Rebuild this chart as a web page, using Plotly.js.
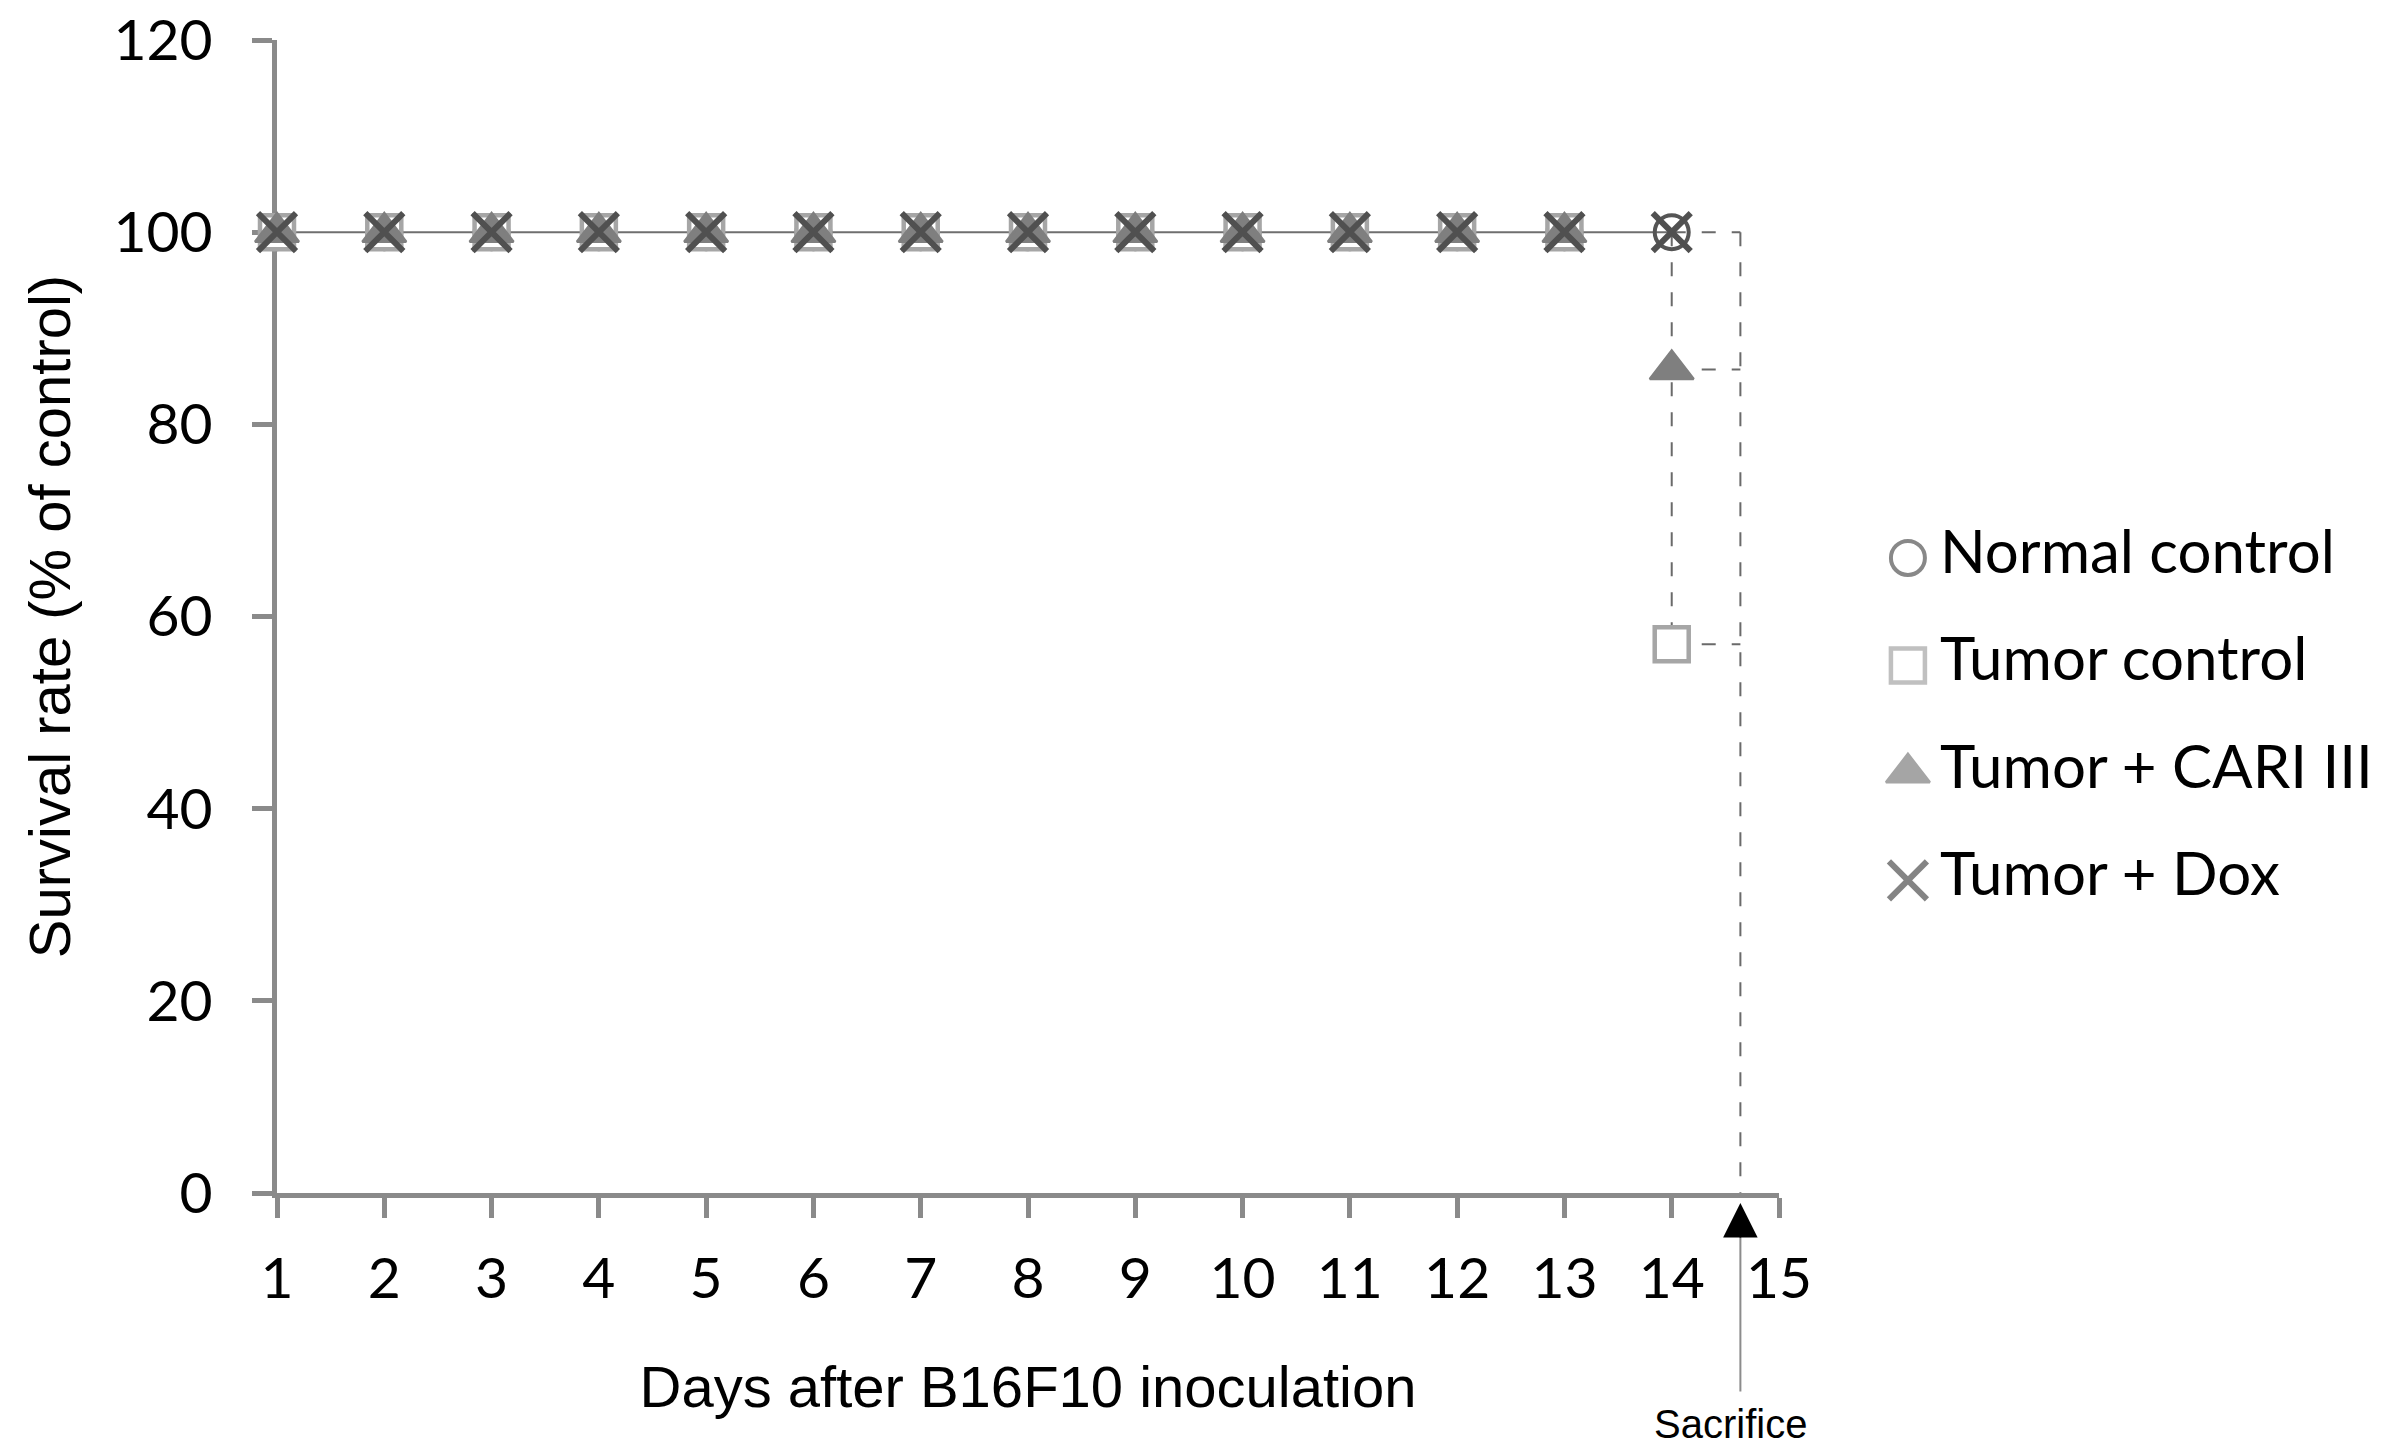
<!DOCTYPE html>
<html>
<head>
<meta charset="utf-8">
<script src="https://cdn.plot.ly/plotly-3.0.1.min.js"></script>
<style>
  html, body { margin: 0; padding: 0; background: #fff; }
  #chart { width: 2404px; height: 1451px; }
</style>
</head>
<body>
<div id="chart"></div>
<script>
// survival data (7 mice per group)
const days = [1, 2, 3, 4, 5, 6, 7, 8, 9, 10, 11, 12, 13, 14];
const normalControl = [100, 100, 100, 100, 100, 100, 100, 100, 100, 100, 100, 100, 100, 100];
const tumorControl = [100, 100, 100, 100, 100, 100, 100, 100, 100, 100, 100, 100, 100, 57.1];
const tumorCari = [100, 100, 100, 100, 100, 100, 100, 100, 100, 100, 100, 100, 100, 85.7];
const tumorDox = [100, 100, 100, 100, 100, 100, 100, 100, 100, 100, 100, 100, 100, 100];
const sacrificeDay = 14.64;

const seriesNames = ['Normal control', 'Tumor control', 'Tumor + CARI III', 'Tumor + Dox'];
const xTicks = [1, 2, 3, 4, 5, 6, 7, 8, 9, 10, 11, 12, 13, 14, 15];
const yTicks = [0, 20, 40, 60, 80, 100, 120];

const AXIS_GREY = '#8a8a8a';
const DASH = '14px,16px';

// marker look of each group, reused by the legend keys
const markerStyles = [
  { symbol: 'circle-open', size: 34, color: '#555555', line: { width: 4, color: '#555555' } },
  { symbol: 'square', size: 34, color: '#ffffff', line: { width: 4.5, color: '#a6a6a6' } },
  { symbol: 'triangle-up', size: 38, color: '#7f7f7f', line: { width: 2.5, color: '#7f7f7f' } },
  { symbol: 'x-thin-open', size: 38, color: '#505050', line: { width: 6, color: '#505050' } }
];
const allSeries = [normalControl, tumorControl, tumorCari, tumorDox];

// dashed guides from the last day to the sacrifice day
const lastDay = days[days.length - 1];
const lastVals = allSeries.map(s => s[s.length - 1]);
const topVal = Math.max(...lastVals);
const lowVal = Math.min(...lastVals);

const guideX = [lastDay, lastDay, null, sacrificeDay, sacrificeDay, null];
const guideY = [topVal, lowVal, null, topVal, 0, null];
[...new Set(lastVals)].forEach(v => {
  guideX.push(lastDay, sacrificeDay, null);
  guideY.push(v, v, null);
});

const traces = [];

traces.push({
  x: guideX, y: guideY,
  type: 'scatter', mode: 'lines',
  line: { color: '#6a6a6a', width: 2, dash: DASH },
  hoverinfo: 'skip', showlegend: false, cliponaxis: false
});

allSeries.forEach((vals, i) => {
  traces.push({
    x: days, y: vals,
    name: seriesNames[i],
    type: 'scatter',
    mode: i === 0 ? 'lines+markers' : 'markers',
    line: { color: '#6f6f6f', width: 2 },
    marker: markerStyles[i],
    showlegend: false,
    cliponaxis: false
  });
});

// legend keys drawn on a hidden side axis
const legendRows = seriesNames.map((n, i) => i);
traces.push({
  x: legendRows.map(() => 22), y: legendRows,
  xaxis: 'x2', yaxis: 'y2',
  type: 'scatter', mode: 'markers',
  marker: {
    symbol: markerStyles.map(m => m.symbol),
    size: markerStyles.map(m => m.size),
    color: markerStyles.map(m => m.color),
    line: { width: markerStyles.map(m => m.line.width), color: markerStyles.map(m => m.line.color) }
  },
  hoverinfo: 'skip', showlegend: false, cliponaxis: false
});
traces.push({
  x: legendRows.map(() => 54), y: legendRows,
  xaxis: 'x2', yaxis: 'y2',
  type: 'scatter', mode: 'text',
  text: seriesNames,
  textposition: 'middle right',
  textfont: { family: 'Lato, "Open Sans", sans-serif', size: 60, color: '#000' },
  hoverinfo: 'skip', showlegend: false, cliponaxis: false
});

const tickFont = { family: 'Lato, "Open Sans", sans-serif', size: 57, color: '#000' };
const titleFont = { family: '"Liberation Sans", Arial, sans-serif', size: 58, color: '#000' };

const layout = {
  width: 2404,
  height: 1451,
  margin: { l: 277, r: 10, t: 40, b: 258 },
  paper_bgcolor: '#ffffff',
  plot_bgcolor: '#ffffff',
  showlegend: false,
  xaxis: {
    domain: [0, 0.7095],
    range: [1, 15],
    tickvals: xTicks,
    ticktext: xTicks.map(String),
    ticks: 'outside', ticklen: 20, tickwidth: 5, tickcolor: AXIS_GREY,
    showline: true, linecolor: AXIS_GREY, linewidth: 5,
    showgrid: false, zeroline: false,
    tickfont: tickFont,
    ticklabelstandoff: 12,
    ticklabeloverflow: 'allow',
    layer: 'below traces',
    title: { text: 'Days after B16F10 inoculation', font: titleFont, standoff: 58 }
  },
  yaxis: {
    range: [0, 120],
    tickvals: yTicks,
    ticks: 'outside', ticklen: 20, tickwidth: 5, tickcolor: AXIS_GREY,
    showline: true, linecolor: AXIS_GREY, linewidth: 5,
    showgrid: false, zeroline: false,
    tickfont: tickFont,
    ticklabelstandoff: 28,
    ticklabeloverflow: 'allow',
    layer: 'below traces',
    title: { text: 'Survival rate (% of control)', font: titleFont, standoff: 26 }
  },
  xaxis2: {
    domain: [0.76, 1], range: [0, 508], anchor: 'y2',
    visible: false, fixedrange: true
  },
  yaxis2: {
    domain: [0, 1], range: [5.91, -4.82], anchor: 'x2',
    visible: false, fixedrange: true
  },
  annotations: [
    {
      // grey stem of the sacrifice arrow
      x: sacrificeDay, xref: 'x', y: -0.0086, yref: 'paper',
      text: '',
      showarrow: true, arrowhead: 0, arrowwidth: 2, arrowcolor: '#8c8c8c',
      ax: 0, ay: 190, standoff: 30
    },
    {
      x: sacrificeDay, xref: 'x', y: -0.0086, yref: 'paper',
      text: '',
      showarrow: true, arrowhead: 2, arrowsize: 4.6, arrowwidth: 1.5, arrowcolor: '#000',
      ax: 0, ay: 36
    },
    {
      x: sacrificeDay, xref: 'x', xshift: -10,
      y: -0.2005, yref: 'paper', yanchor: 'middle',
      text: 'Sacrifice',
      font: { family: '"Liberation Sans", Arial, sans-serif', size: 40, color: '#000' },
      showarrow: false
    }
  ]
};

Plotly.newPlot('chart', traces, layout, { displayModeBar: false, responsive: false });
</script>
</body>
</html>
